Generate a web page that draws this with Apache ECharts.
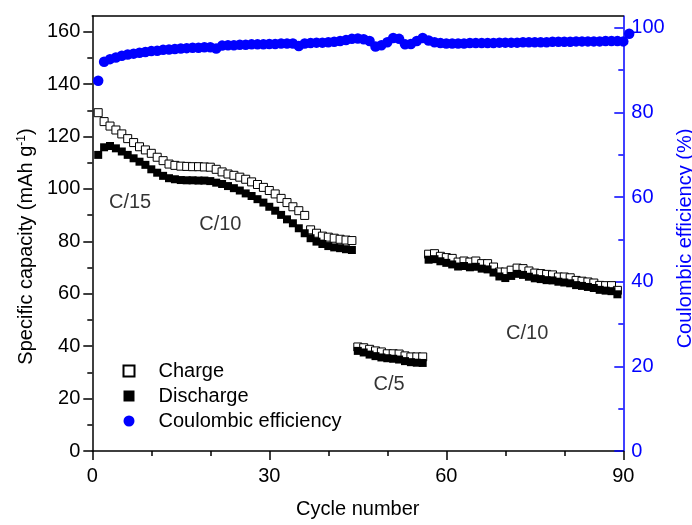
<!DOCTYPE html>
<html>
<head>
<meta charset="utf-8">
<script src="https://cdn.jsdelivr.net/npm/echarts@6/dist/echarts.min.js"></script>
<style>html,body{margin:0;padding:0;background:#fff;}#c{width:692px;height:525px;}</style>
</head>
<body>
<div id="c"></div>
<script>
// ---- data ----
const seg1Start = 1;   // C/15 - C/10
const seg2Start = 45;  // C/5
const seg3Start = 57;  // C/10
const effStart = 1;

const charge1 = [129.1,125.7,124,122.5,121,119.2,117.7,116.1,114.9,113.6,112.1,110.8,109.5,109,108.7,108.6,108.5,108.5,108.4,108.3,107.5,106.5,105.7,105.2,104.5,103.7,102.7,101.7,100.6,99.4,98.1,96.4,94.8,93.2,91.7,89.9,84.4,83.1,82,81.6,81.2,80.8,80.5,80.3];
const discharge1 = [113,115.9,116.4,115.5,114.3,113,111.7,110.4,109.2,107.5,106.2,105,104.1,103.7,103.4,103.3,103.3,103.2,103.2,103,102.4,101.9,101.1,100.3,99.4,98.3,97.3,96.1,94.8,93.2,91.7,90.1,88.4,86.9,85,83.1,81.2,79.9,79,78.2,77.7,77.4,77,76.7];

const charge2 = [39.7,39.4,38.8,38.2,37.8,37.1,37.1,37.0,36.3,35.9,35.9,35.9];
const discharge2 = [38.2,37.6,36.8,36.2,35.7,35.4,35.2,34.9,34.3,33.9,33.7,33.6];

const charge3 = [75.1,75.3,74.3,73.8,73.5,72.1,72.5,72.1,72.5,71.5,71.5,70.2,68.3,68.3,69,69.8,69.6,68.7,67.9,67.7,67.4,67.2,66.4,66.4,66.1,65.1,64.8,64.5,64.1,63.2,63.1,63.1,61.3];
const discharge3 = [73.0,73.2,72.4,71.8,71.2,70.4,70.6,70.1,70.3,69.6,69.3,68.1,66.6,66.0,66.8,67.6,67.2,66.5,65.9,65.6,65.2,65.1,64.6,64.3,64.0,63.3,63.0,62.6,62.2,61.5,61.2,61.0,59.8];

const efficiency = [87.5,92.0,92.6,93.0,93.4,93.7,93.9,94.1,94.3,94.5,
  94.6,94.8,94.9,95.0,95.1,95.2,95.3,95.3,95.4,95.4,
  95.1,95.8,95.9,95.9,96.0,96.0,96.1,96.1,96.1,96.2,
  96.2,96.3,96.3,96.3,95.7,96.3,96.4,96.5,96.5,96.6,
  96.7,96.9,97.1,97.4,97.5,97.3,96.9,95.6,95.9,96.6,
  97.6,97.4,96.1,96.2,96.9,97.6,97.0,96.6,96.4,96.3,
  96.3,96.3,96.3,96.4,96.4,96.4,96.4,96.4,96.5,96.5,
  96.5,96.5,96.6,96.6,96.6,96.6,96.6,96.7,96.7,96.7,
  96.7,96.8,96.8,96.8,96.8,96.8,96.9,96.9,96.9,96.8,
  98.6];

const rateLabels = ['C/15','C/10','C/5','C/10'];
const rateLabelPos = [[6.4,94.7],[21.7,86.3],[50.3,25.2],[73.7,45]];

const xTicks = [0,30,60,90];
const leftTicks = [0,20,40,60,80,100,120,140,160];
const leftMinor = [10,30,50,70,90,110,130,150];
const rightTicks = [0,20,40,60,80,100];
const rightMinor = [10,30,50,70,90];

// ---- build ----
function pairs(start, arr){ return arr.map((v,i)=>[start+i, v]); }
const chargeData = pairs(seg1Start,charge1).concat(pairs(seg2Start,charge2), pairs(seg3Start,charge3));
const dischargeData = pairs(seg1Start,discharge1).concat(pairs(seg2Start,discharge2), pairs(seg3Start,discharge3));
const effData = pairs(effStart, efficiency);
const labelData = rateLabels.map((n,i)=>({name:n, value:rateLabelPos[i]}));

const FONT = "'Liberation Sans Narrow','Arial Narrow','Liberation Sans',Arial,sans-serif";
const BLUE = '#0000ff';
const FS = 20;
const MAJ = 9, MIN = 5;

const chart = echarts.init(document.getElementById('c'), null, {renderer:'canvas'});
chart.setOption({
  animation:false,
  backgroundColor:'#fff',
  textStyle:{fontFamily:FONT},
  grid:{left:92.3, right:68.7, top:16, bottom:74, containLabel:false, outerBoundsMode:'none'},
  legend:{
    data:['Charge','Discharge','Coulombic efficiency'],
    orient:'vertical', left:122.5, top:360.5, padding:0,
    itemWidth:11, itemHeight:11, itemGap:4,
    textStyle:{fontSize:FS, fontFamily:FONT, color:'#000', lineHeight:21, padding:[0,0,0,19]}
  },
  xAxis:[{
    type:'value', min:0, max:90, interval:30, position:'bottom',
    axisLine:{onZero:false, lineStyle:{color:'#000', width:1.5}},
    axisTick:{length:MAJ, lineStyle:{color:'#000', width:1.5}},
    minorTick:{show:true, splitNumber:3, length:MIN, lineStyle:{color:'#000', width:1.5}},
    axisLabel:{fontSize:FS, color:'#000', margin:15, fontFamily:FONT},
    splitLine:{show:false},
    name:'Cycle number', nameLocation:'middle', nameGap:48,
    nameTextStyle:{fontSize:FS, color:'#000', fontFamily:FONT}
  },{
    type:'value', min:0, max:90, position:'top',
    axisLine:{onZero:false, lineStyle:{color:'#000', width:1.5}},
    axisTick:{show:false}, axisLabel:{show:false}, splitLine:{show:false}
  }],
  yAxis:[{
    type:'value', min:0, max:166, position:'left',
    axisLine:{show:true, onZero:false, lineStyle:{color:'#000', width:1.5}},
    axisTick:{show:true, length:MAJ, customValues:leftTicks, lineStyle:{color:'#000', width:1.5}},
    axisLabel:{fontSize:FS, color:'#000', margin:12, customValues:leftTicks, fontFamily:FONT},
    splitLine:{show:false},
    name:'Specific capacity (mAh g{sup|-1})', nameLocation:'middle', nameGap:55, nameRotate:90,
    nameTextStyle:{fontSize:FS, color:'#000', fontFamily:FONT, padding:[0,26,0,0],
      rich:{sup:{fontSize:12, fontFamily:FONT, color:'#000', verticalAlign:'top', lineHeight:20}}}
  },{
    type:'value', min:0, max:166, position:'left',
    axisLine:{show:false, onZero:false},
    axisTick:{show:true, length:MIN, customValues:leftMinor, lineStyle:{color:'#000', width:1.5}},
    axisLabel:{show:false}, splitLine:{show:false}
  },{
    type:'value', min:0, max:102.8, position:'right',
    axisLine:{show:true, onZero:false, lineStyle:{color:BLUE, width:1.5}},
    axisTick:{show:true, inside:true, length:MAJ, customValues:rightTicks, lineStyle:{color:BLUE, width:1.5}},
    axisLabel:{fontSize:FS, color:BLUE, margin:8, customValues:rightTicks, fontFamily:FONT},
    splitLine:{show:false},
    name:'Coulombic efficiency (%)', nameLocation:'middle', nameGap:48, nameRotate:90,
    nameTextStyle:{fontSize:FS, color:BLUE, fontFamily:FONT, padding:[0,10,0,0]}
  },{
    type:'value', min:0, max:102.8, position:'right',
    axisLine:{show:false, onZero:false},
    axisTick:{show:true, inside:true, length:MIN, customValues:rightMinor, lineStyle:{color:BLUE, width:1.5}},
    axisLabel:{show:false}, splitLine:{show:false}
  }],
  series:[{
    name:'Charge', type:'scatter', symbol:'rect', symbolSize:8,
    xAxisIndex:0, yAxisIndex:0, data:chargeData,
    itemStyle:{color:'#fff', borderColor:'#000', borderWidth:1, opacity:1}
  },{
    name:'Discharge', type:'scatter', symbol:'rect', symbolSize:8,
    xAxisIndex:0, yAxisIndex:0, data:dischargeData,
    itemStyle:{color:'#000', opacity:1}
  },{
    name:'Coulombic efficiency', type:'scatter', symbol:'circle', symbolSize:10.5,
    xAxisIndex:0, yAxisIndex:2, data:effData, clip:false,
    itemStyle:{color:BLUE, opacity:1}
  },{
    name:'rate', type:'scatter', symbolSize:0, silent:true,
    xAxisIndex:0, yAxisIndex:0, data:labelData,
    label:{show:true, position:'inside', formatter:'{b}', fontSize:FS, color:'#000', fontFamily:FONT}
  }]
});
</script>
</body>
</html>
